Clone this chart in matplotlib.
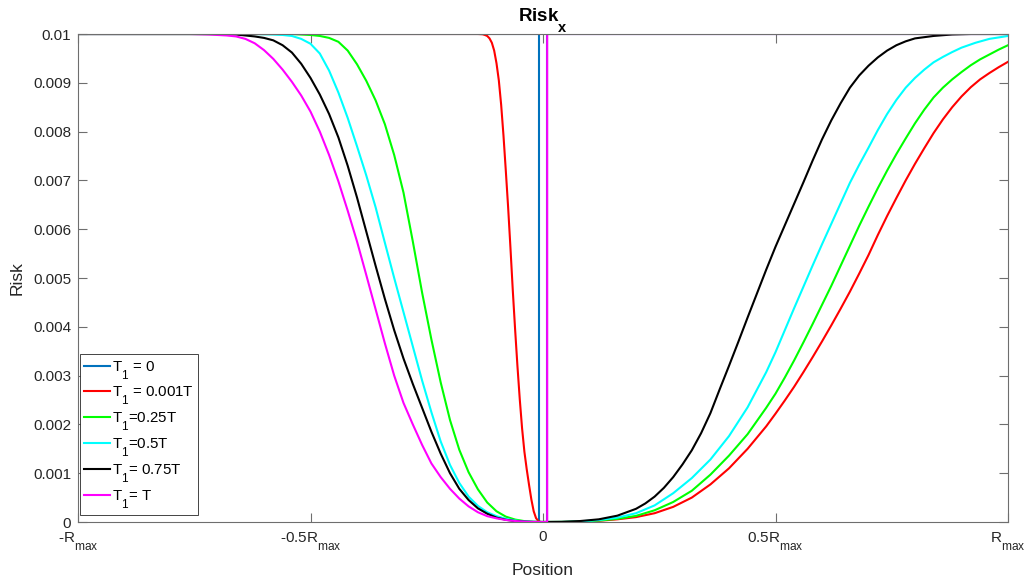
import matplotlib
matplotlib.use('Agg')
import matplotlib.pyplot as plt
import numpy as np

try:
    import matplotlib._mathtext as _mt
    _mt.SHRINK_FACTOR = 0.78
    _mt.FontConstantsBase.sub1 = 1.1
except Exception:
    pass

plt.rcParams['font.family'] = ['Liberation Sans', 'DejaVu Sans']
plt.rcParams['mathtext.fontset'] = 'custom'
plt.rcParams['mathtext.rm'] = 'Liberation Sans'
plt.rcParams['mathtext.it'] = 'Liberation Sans:italic'
plt.rcParams['mathtext.bf'] = 'Liberation Sans:bold'

# ---- data: position in units of R_max, risk in units of 1e-3 ----
# T1 = 0
x_T0 = [-1.0, -0.009, -0.009, 0.009, 0.009, 1.0]
r_T0 = [10, 10, 0, 0, 10, 10]

# T1 = 0.001T
x_T0001 = [-1.0, -0.14, -0.13, -0.125, -0.12, -0.115, -0.11, -0.105, -0.10, -0.095,
           -0.09, -0.085, -0.08, -0.075, -0.07, -0.065, -0.06, -0.055, -0.05, -0.045,
           -0.04, -0.035, -0.03, -0.025, -0.02, -0.015, -0.01, -0.005, 0.0,
           0.04, 0.08, 0.12, 0.16, 0.20, 0.24, 0.28, 0.32, 0.36, 0.40, 0.44, 0.48,
           0.50, 0.52, 0.54, 0.56, 0.58, 0.60, 0.62, 0.64, 0.66, 0.68, 0.70, 0.72,
           0.74, 0.76, 0.78, 0.80, 0.82, 0.84, 0.86, 0.88, 0.90, 0.92, 0.94, 0.96,
           0.98, 1.0]
r_T0001 = [10, 10, 9.995, 9.98, 9.96, 9.91, 9.82, 9.66, 9.4, 9.05,
           8.55, 7.92, 7.2, 6.45, 5.62, 4.75, 3.95, 3.2, 2.52, 1.92,
           1.44, 1.08, 0.76, 0.46, 0.22, 0.08, 0.02, 0.0, 0.0,
           0.001, 0.008, 0.025, 0.055, 0.1, 0.18, 0.31, 0.5, 0.77, 1.1, 1.5, 1.96,
           2.22, 2.49, 2.77, 3.07, 3.38, 3.7, 4.03, 4.37, 4.72, 5.09, 5.47, 5.88,
           6.27, 6.64, 7.0, 7.34, 7.66, 7.97, 8.25, 8.5, 8.72, 8.91, 9.07, 9.2,
           9.32, 9.43]

# T1 = 0.25T
x_T025 = [-1.0, -0.54, -0.50, -0.48, -0.46, -0.44, -0.42, -0.40, -0.38, -0.36,
          -0.34, -0.32, -0.30, -0.28, -0.26, -0.24, -0.22, -0.20, -0.18, -0.16,
          -0.14, -0.12, -0.10, -0.08, -0.06, -0.04, -0.02, 0.0,
          0.04, 0.08, 0.12, 0.16, 0.20, 0.24, 0.28, 0.32, 0.36, 0.40, 0.44, 0.48,
          0.50, 0.52, 0.54, 0.56, 0.58, 0.60, 0.62, 0.64, 0.66, 0.68, 0.70, 0.72,
          0.74, 0.76, 0.78, 0.80, 0.82, 0.84, 0.86, 0.88, 0.90, 0.92, 0.94, 0.96,
          0.98, 1.0]
r_T025 = [10, 10, 9.98, 9.96, 9.92, 9.84, 9.66, 9.38, 9.04, 8.64,
          8.15, 7.52, 6.75, 5.75, 4.7, 3.74, 2.86, 2.09, 1.48, 1.02,
          0.67, 0.4, 0.22, 0.11, 0.05, 0.018, 0.004, 0.0,
          0.002, 0.01, 0.03, 0.065, 0.125, 0.24, 0.41, 0.64, 0.97, 1.36, 1.8, 2.34,
          2.63, 2.96, 3.31, 3.68, 4.06, 4.45, 4.84, 5.25, 5.66, 6.07, 6.46, 6.84,
          7.2, 7.54, 7.86, 8.17, 8.45, 8.7, 8.9, 9.07, 9.22, 9.36, 9.48, 9.58,
          9.68, 9.77]

# T1 = 0.5T
x_T05 = [-1.0, -0.62, -0.58, -0.56, -0.54, -0.52, -0.50, -0.48, -0.46, -0.44,
         -0.42, -0.40, -0.38, -0.36, -0.34, -0.32, -0.30, -0.28, -0.26, -0.24,
         -0.22, -0.20, -0.18, -0.16, -0.14, -0.12, -0.10, -0.08, -0.06, -0.04,
         -0.02, 0.0,
         0.04, 0.08, 0.12, 0.16, 0.20, 0.24, 0.28, 0.32, 0.36, 0.40, 0.44, 0.48,
         0.50, 0.52, 0.54, 0.56, 0.58, 0.60, 0.62, 0.64, 0.66, 0.68, 0.70, 0.72,
         0.74, 0.76, 0.78, 0.80, 0.82, 0.84, 0.86, 0.88, 0.90, 0.93, 0.96, 1.0]
r_T05 = [10, 10, 9.99, 9.98, 9.96, 9.9, 9.8, 9.6, 9.25, 8.8,
         8.28, 7.7, 7.1, 6.45, 5.72, 5.0, 4.3, 3.6, 2.9, 2.25,
         1.65, 1.17, 0.8, 0.52, 0.33, 0.2, 0.12, 0.065, 0.03, 0.012,
         0.003, 0.0,
         0.002, 0.012, 0.04, 0.09, 0.18, 0.34, 0.59, 0.9, 1.28, 1.76, 2.35, 3.07,
         3.48, 3.93, 4.38, 4.82, 5.26, 5.69, 6.11, 6.53, 6.95, 7.32, 7.67, 8.03,
         8.36, 8.65, 8.9, 9.1, 9.27, 9.42, 9.53, 9.63, 9.72, 9.82, 9.9, 9.96]

# T1 = 0.75T
x_T075 = [-1.0, -0.70, -0.66, -0.64, -0.62, -0.60, -0.58, -0.56, -0.54, -0.52,
          -0.50, -0.48, -0.46, -0.44, -0.42, -0.40, -0.38, -0.36, -0.34, -0.32,
          -0.30, -0.28, -0.26, -0.24, -0.22, -0.20, -0.18, -0.16, -0.14, -0.12,
          -0.10, -0.08, -0.06, -0.04, -0.02, 0.0,
          0.04, 0.08, 0.12, 0.16, 0.20, 0.22, 0.24, 0.26, 0.28, 0.30, 0.32, 0.34,
          0.36, 0.38, 0.40, 0.42, 0.44, 0.46, 0.48, 0.50, 0.52, 0.54, 0.56, 0.58,
          0.60, 0.62, 0.64, 0.66, 0.68, 0.70, 0.72, 0.74, 0.76, 0.78, 0.80, 0.84,
          0.88, 0.92, 1.0]
r_T075 = [10, 10, 9.99, 9.97, 9.95, 9.92, 9.87, 9.77, 9.62, 9.39,
          9.1, 8.76, 8.36, 7.88, 7.3, 6.65, 5.95, 5.25, 4.57, 3.93,
          3.35, 2.83, 2.34, 1.85, 1.4, 1.0, 0.68, 0.45, 0.28, 0.17,
          0.09, 0.045, 0.02, 0.007, 0.002, 0.0,
          0.003, 0.02, 0.055, 0.13, 0.27, 0.38, 0.52, 0.7, 0.92, 1.18, 1.47, 1.82,
          2.23, 2.72, 3.2, 3.69, 4.19, 4.68, 5.17, 5.64, 6.08, 6.52, 6.96, 7.41,
          7.84, 8.23, 8.58, 8.9, 9.15, 9.35, 9.52, 9.66, 9.77, 9.85, 9.91, 9.96,
          9.99, 10, 10]

# T1 = T
x_T1 = [-1.0, -0.76, -0.72, -0.70, -0.68, -0.66, -0.64, -0.62, -0.60, -0.58,
        -0.56, -0.54, -0.52, -0.50, -0.48, -0.46, -0.44, -0.42, -0.40, -0.38,
        -0.36, -0.34, -0.32, -0.30, -0.28, -0.26, -0.24, -0.22, -0.20, -0.18,
        -0.16, -0.14, -0.12, -0.10, -0.08, -0.06, -0.04, -0.02, 0.0,
        0.009, 0.009, 1.0]
r_T1 = [10, 10, 9.99, 9.98, 9.97, 9.95, 9.9, 9.81, 9.67, 9.49,
        9.27, 9.02, 8.74, 8.41, 8.0, 7.52, 6.98, 6.38, 5.75, 5.06,
        4.36, 3.66, 3.0, 2.44, 2.0, 1.58, 1.2, 0.92, 0.68, 0.48,
        0.32, 0.2, 0.12, 0.075, 0.042, 0.02, 0.007, 0.002, 0.0,
        0.0, 10, 10]

series = [
    (x_T0, r_T0, '#0072BD', 'T$_\\mathrm{1}$ = 0'),
    (x_T0001, r_T0001, '#FF0000', 'T$_\\mathrm{1}$ = 0.001T'),
    (x_T025, r_T025, '#00FF00', 'T$_\\mathrm{1}$=0.25T'),
    (x_T05, r_T05, '#00FFFF', 'T$_\\mathrm{1}$=0.5T'),
    (x_T075, r_T075, '#000000', 'T$_\\mathrm{1}$= 0.75T'),
    (x_T1, r_T1, '#FF00FF', 'T$_\\mathrm{1}$= T'),
]

xtick_pos = [-1.0, -0.5, 0.0, 0.5, 1.0]
xtick_labels = ['-R$_\\mathrm{max}$', '-0.5R$_\\mathrm{max}$', '0',
                '0.5R$_\\mathrm{max}$', 'R$_\\mathrm{max}$']
ytick_pos = [0, 0.001, 0.002, 0.003, 0.004, 0.005, 0.006, 0.007, 0.008, 0.009, 0.01]
ytick_labels = ['0', '0.001', '0.002', '0.003', '0.004', '0.005', '0.006',
                '0.007', '0.008', '0.009', '0.01']

fig = plt.figure(figsize=(10.30, 5.84), dpi=100)
ax = fig.add_axes([78/1030, 1-522/584, 930/1030, 488/584])

for xs, rs, c, lab in series:
    ax.plot(xs, np.asarray(rs) * 1e-3, color=c, lw=1.5, label=lab)

ax.set_xlim(-1, 1)
ax.set_ylim(0, 0.01)
ax.set_xticks(xtick_pos)
ax.set_xticklabels(xtick_labels)
ax.set_yticks(ytick_pos)
ax.set_yticklabels(ytick_labels)

axcol = '#262626'
for s in ax.spines.values():
    s.set_color('#6e6e6e')
    s.set_linewidth(0.8)
ax.tick_params(direction='in', length=6.7, width=0.8, color='#6e6e6e',
               top=True, right=True, labelsize=11, labelcolor=axcol)
ax.tick_params(axis='y', pad=5.0)
ax.tick_params(axis='x', pad=6.0)

ax.set_xlabel('Position', fontsize=12.5, color=axcol, labelpad=7)
ax.set_ylabel('Risk', fontsize=12.5, color=axcol, labelpad=6)
ax.set_title('Risk$_\\mathbf{x}$', fontsize=13.5, fontweight='bold', color='black', pad=9)

leg = ax.legend(loc='lower left', bbox_to_anchor=(0.002, 0.014), borderaxespad=0,
                fontsize=10.8, handlelength=1.7, handletextpad=0.15, labelspacing=0.2,
                borderpad=0.3, fancybox=False, framealpha=1)
leg.get_frame().set_edgecolor('#262626')
leg.get_frame().set_linewidth(0.6)
for t in leg.get_texts():
    t.set_color('black')

fig.savefig('out.png', dpi=100)
